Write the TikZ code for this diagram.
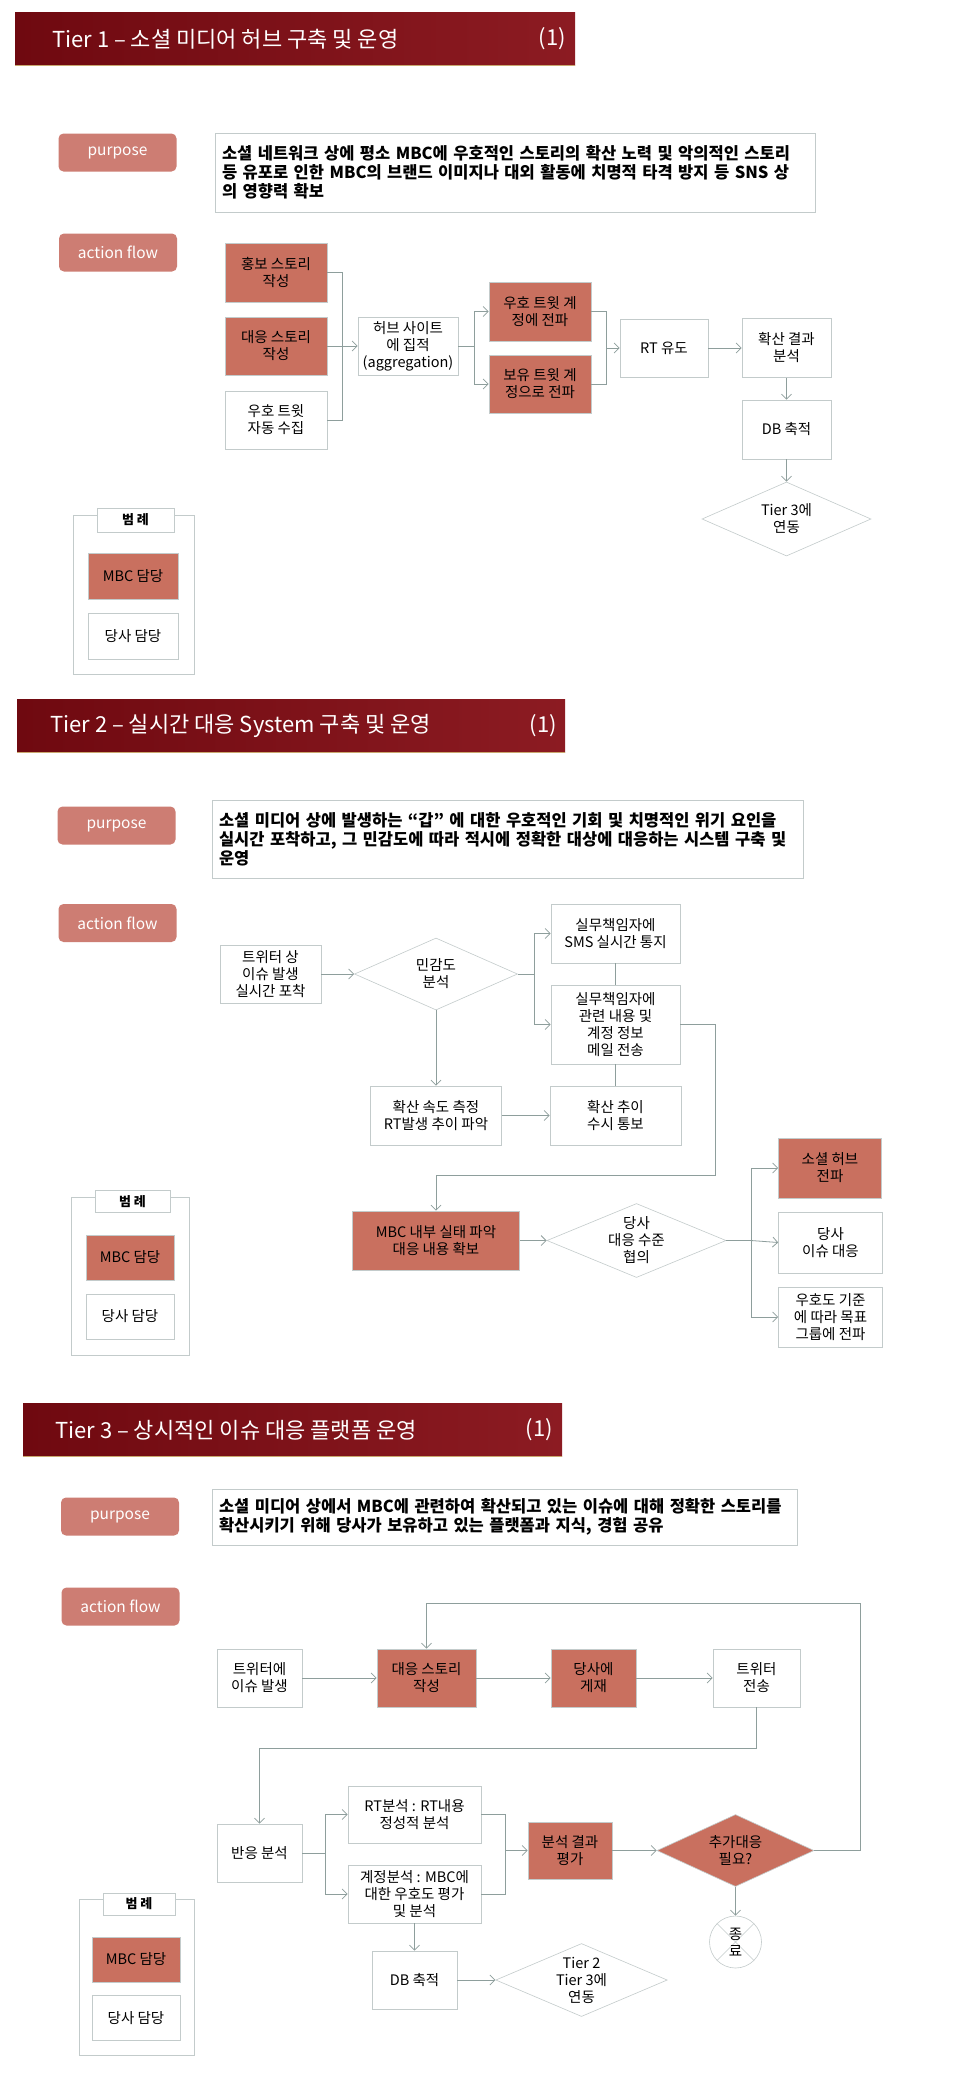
\documentclass[tikz,border=0pt]{standalone}
\usepackage{fontspec}
\setmainfont{Noto Sans CJK KR}
\usetikzlibrary{shapes.geometric,arrows.meta}
\definecolor{barred}{HTML}{6F0910}
\definecolor{barredlight}{HTML}{8C1B22}
\definecolor{baredge}{HTML}{C9A86E}
\definecolor{mbcred}{HTML}{C9705F}
\definecolor{pillred}{HTML}{CD7D73}
\definecolor{boxline}{HTML}{C3CBCB}
\definecolor{flowline}{HTML}{8E9E9C}
\newcommand\flowfont{\fontsize{14.5}{17}\selectfont}
\newcommand\purposefont{\fontsize{16.5}{19}\selectfont\bfseries}
\newcommand\titlefont{\fontsize{22}{26}\selectfont}
\begin{document}
\begin{tikzpicture}[x=1pt,y=-1pt,
    every node/.style={font=\flowfont, inner sep=0pt, align=center},
    mbcbox/.style={draw=boxline, fill=mbcred, line width=0.6pt},
    ourbox/.style={draw=boxline, fill=white, line width=0.6pt},
    decide/.style={diamond, draw=boxline, fill=white, aspect=2.6, line width=0.6pt},
    pill/.style={rounded corners=5pt, fill=pillred, text=white, minimum width=118pt, minimum height=38pt, font=\fontsize{15.5}{18}\selectfont},
    purposebox/.style={draw=boxline, line width=0.8pt, align=left, inner sep=7pt, font=\purposefont},
    titlebar/.style={left color=barred, right color=barredlight, minimum height=53pt},
    titletext/.style={text=white, font=\titlefont},
    legendtab/.style={draw=boxline, fill=white, line width=0.6pt, font=\fontsize{13}{15}\selectfont\bfseries},
    wire/.style={draw=flowline, line width=0.8pt},
    wirearrow/.style={wire, -{Straight Barb[length=5pt,width=10pt]}},
  ]
  \path[use as bounding box, fill=white] (0,0) rectangle (960,2077);

  % ---------------- Tier 1 ----------------
  \node[titlebar, minimum width=560pt] (bar1) at (295,39) {};
  \draw[baredge, line width=1pt] (bar1.south west) -- (bar1.south east);
  \node[titletext, anchor=west] (title1) at (52,39) {Tier 1 – 소셜 미디어 허브 구축 및 운영};
  \node[titletext, anchor=east] (num1) at (566,39) {(1)};

  \node[pill] (purpose1) at (117.5,152.5) {purpose};
  \node[purposebox, text width=586pt, minimum height=79pt] (goal1) at (515,172.5)
    {소셜 네트워크 상에 평소 MBC에 우호적인 스토리의 확산 노력 및 악의적인 스토리\\
     등 유포로 인한 MBC의 브랜드 이미지나 대외 활동에 치명적 타격 방지 등 SNS 상\\
     의 영향력 확보};
  \node[pill] (action1) at (118,252.5) {action flow};

  \node[mbcbox, minimum width=102pt, minimum height=59pt] (promo) at (276,272.5) {홍보 스토리\\작성};
  \node[mbcbox, minimum width=102pt, minimum height=58pt] (counter1) at (276,346) {대응 스토리\\작성};
  \node[ourbox, minimum width=102pt, minimum height=58pt] (collect) at (276,420) {우호 트윗\\자동 수집};
  \node[ourbox, minimum width=100pt, minimum height=58pt] (hub) at (408,346) {허브 사이트\\에 집적\\(aggregation)};
  \node[mbcbox, minimum width=102pt, minimum height=59pt] (favacct) at (540,311.5) {우호 트윗 계\\정에 전파};
  \node[mbcbox, minimum width=102pt, minimum height=58pt] (ownacct) at (540,384) {보유 트윗 계\\정으로 전파};
  \node[ourbox, minimum width=88pt, minimum height=58pt] (rtinduce) at (664,348) {RT 유도};
  \node[ourbox, minimum width=89pt, minimum height=59pt] (result1) at (786.5,348) {확산 결과\\분석};
  \node[ourbox, minimum width=89pt, minimum height=59pt] (db1) at (786.5,429.5) {DB 축적};
  \node[decide, minimum width=169pt, minimum height=74pt] (link1) at (786.5,519) {Tier 3에\\연동};

  \coordinate (join1) at (342,346);
  \coordinate (split1) at (474,346);
  \coordinate (join2) at (606,348);
  \draw[wire] (promo.east) -| (join1);
  \draw[wire] (collect.east) -| (join1);
  \draw[wirearrow] (counter1.east) -- (hub.west);
  \draw[wire] (hub.east) -- (split1);
  \draw[wirearrow] (split1) |- (favacct.west);
  \draw[wirearrow] (split1) |- (ownacct.west);
  \draw[wire] (favacct.east) -| (join2);
  \draw[wire] (ownacct.east) -| (join2);
  \draw[wirearrow] (join2) -- (rtinduce.west);
  \draw[wirearrow] (rtinduce.east) -- (result1.west);
  \draw[wirearrow] (result1.south) -- (db1.north);
  \draw[wirearrow] (db1.south) -- (link1.north);

  % legend
  \node[ourbox, minimum width=121pt, minimum height=159pt] (legend1) at (133.5,594.5) {};
  \node[legendtab, minimum width=77pt, minimum height=24pt] (tab1) at (135.5,520) {범 례};
  \node[mbcbox, minimum width=90pt, minimum height=46pt] (keymbc1) at (133,576) {MBC 담당};
  \node[ourbox, minimum width=90pt, minimum height=46pt] (keyour1) at (133,636) {당사 담당};

  % ---------------- Tier 2 ----------------
  \node[titlebar, minimum width=548pt] (bar2) at (291,725.5) {};
  \draw[baredge, line width=1pt] (bar2.south west) -- (bar2.south east);
  \node[titletext, anchor=west] (title2) at (50,725.5) {Tier 2 – 실시간 대응 System 구축 및 운영};
  \node[titletext, anchor=east] (num2) at (557,725.5) {(1)};

  \node[pill] (purpose2) at (116.5,825.5) {purpose};
  \node[purposebox, text width=577pt, minimum height=78pt] (goal2) at (507.5,839)
    {소셜 미디어 상에 발생하는 “갑” 에 대한 우호적인 기회 및 치명적인 위기 요인을\\
     실시간 포착하고, 그 민감도에 따라 적시에 정확한 대상에 대응하는 시스템 구축 및\\
     운영};
  \node[pill] (action2) at (117.5,923) {action flow};

  \node[ourbox, minimum width=101pt, minimum height=58pt] (capture) at (270.5,974) {트위터 상\\이슈 발생\\실시간 포착};
  \node[decide, minimum width=163pt, minimum height=72pt] (sense) at (436,974) {민감도\\분석};
  \node[ourbox, minimum width=129pt, minimum height=59pt] (sms) at (615.5,933.5) {실무책임자에\\SMS 실시간 통지};
  \node[ourbox, minimum width=129pt, minimum height=79pt] (mail) at (615.5,1024.5) {실무책임자에\\관련 내용 및\\계정 정보\\메일 전송};
  \node[ourbox, minimum width=131pt, minimum height=59pt] (speed) at (436,1115.5) {확산 속도 측정\\RT발생 추이 파악};
  \node[ourbox, minimum width=131pt, minimum height=59pt] (trend) at (615.5,1115.5) {확산 추이\\수시 통보};
  \node[mbcbox, minimum width=167pt, minimum height=59pt] (internal) at (436,1240.5) {MBC 내부 실태 파악\\대응 내용 확보};
  \node[decide, minimum width=165pt, minimum height=74pt] (level) at (636.5,1240.5) {당사\\대응 수준\\협의};
  \node[mbcbox, minimum width=103pt, minimum height=60pt] (hubspread) at (830,1168) {소셜 허브\\전파};
  \node[ourbox, minimum width=104pt, minimum height=61pt] (ourissue) at (830.5,1242.5) {당사\\이슈 대응};
  \node[ourbox, minimum width=104pt, minimum height=60pt] (target) at (830.5,1317) {우호도 기준\\에 따라 목표\\그룹에 전파};

  \coordinate (split2) at (534,974);
  \coordinate (split3) at (751,1240.5);
  \draw[wirearrow] (capture.east) -- (sense.west);
  \draw[wire] (sense.east) -- (split2);
  \draw[wirearrow] (split2) |- (sms.west);
  \draw[wirearrow] (split2) |- (mail.west);
  \draw[wire] (sms.south) -- (mail.north);
  \draw[wirearrow] (sense.south) -- (speed.north);
  \draw[wirearrow] (speed.east) -- (trend.west);
  \draw[wire] (mail.south) -- (trend.north);
  \draw[wirearrow] (mail.east) -- (715,1024.5) -- (715,1175) -| (internal.north);
  \draw[wirearrow] (internal.east) -- (level.west);
  \draw[wire] (level.east) -- (split3);
  \draw[wirearrow] (split3) |- (hubspread.west);
  \draw[wirearrow] (split3) -- (ourissue.west);
  \draw[wirearrow] (split3) |- (target.west);

  % legend
  \node[ourbox, minimum width=118pt, minimum height=158pt] (legend2) at (130,1276) {};
  \node[legendtab, minimum width=75pt, minimum height=22pt] (tab2) at (132.5,1201.5) {범 례};
  \node[mbcbox, minimum width=88pt, minimum height=45pt] (keymbc2) at (130,1257.5) {MBC 담당};
  \node[ourbox, minimum width=88pt, minimum height=45pt] (keyour2) at (130,1316.5) {당사 담당};

  % ---------------- Tier 3 ----------------
  \node[titlebar, minimum width=539pt] (bar3) at (292.5,1430) {};
  \draw[baredge, line width=1pt] (bar3.south west) -- (bar3.south east);
  \node[titletext, anchor=west] (title3) at (55,1430) {Tier 3 – 상시적인 이슈 대응 플랫폼 운영};
  \node[titletext, anchor=east] (num3) at (553,1430) {(1)};

  \node[pill] (purpose3) at (120,1516.5) {purpose};
  \node[purposebox, text width=571pt, minimum height=56pt] (goal3) at (504.5,1517)
    {소셜 미디어 상에서 MBC에 관련하여 확산되고 있는 이슈에 대해 정확한 스토리를\\
     확산시키기 위해 당사가 보유하고 있는 플랫폼과 지식, 경험 공유};
  \node[pill] (action3) at (120.5,1606.5) {action flow};

  \node[ourbox, minimum width=85pt, minimum height=58pt] (twissue) at (259.5,1678) {트위터에\\이슈 발생};
  \node[mbcbox, minimum width=99pt, minimum height=58pt] (story3) at (426.5,1678) {대응 스토리\\작성};
  \node[mbcbox, minimum width=85pt, minimum height=58pt] (post) at (593.5,1678) {당사에\\게재};
  \node[ourbox, minimum width=87pt, minimum height=58pt] (send) at (756.5,1678) {트위터\\전송};
  \node[ourbox, minimum width=85pt, minimum height=58pt] (react) at (259.5,1853) {반응 분석};
  \node[ourbox, minimum width=133pt, minimum height=57pt] (rtan) at (414.5,1814.5) {RT분석 : RT내용\\정성적 분석};
  \node[ourbox, minimum width=133pt, minimum height=58pt] (acct) at (414.5,1894) {계정분석 : MBC에\\대한 우호도 평가\\및 분석};
  \node[mbcbox, minimum width=84pt, minimum height=57pt] (evalres) at (570,1850.5) {분석 결과\\평가};
  \node[decide, fill=mbcred, minimum width=157pt, minimum height=72pt] (more) at (735.5,1850.5) {추가대응\\필요?};
  \node[ourbox, circle, minimum size=52pt] (finish) at (735.5,1942) {};
  \draw[draw=boxline, line width=0.6pt] (finish.45) -- (finish.225) (finish.135) -- (finish.315);
  \node (finishtext) at (735.5,1942) {종\\료};
  \node[ourbox, minimum width=85pt, minimum height=58pt] (db3) at (414.5,1980) {DB 축적};
  \node[decide, minimum width=163pt, minimum height=73pt] (link3) at (581.5,1980) {Tier 2\\Tier 3에\\연동};

  \coordinate (split4) at (325,1853);
  \coordinate (join3) at (505,1850.5);
  \draw[wirearrow] (twissue.east) -- (story3.west);
  \draw[wirearrow] (story3.east) -- (post.west);
  \draw[wirearrow] (post.east) -- (send.west);
  \draw[wirearrow] (send.south) -- (756.5,1748) -| (react.north);
  \draw[wire] (react.east) -- (split4);
  \draw[wirearrow] (split4) |- (rtan.west);
  \draw[wirearrow] (split4) |- (acct.west);
  \draw[wire] (rtan.east) -| (join3);
  \draw[wire] (acct.east) -| (join3);
  \draw[wirearrow] (join3) -- (evalres.west);
  \draw[wirearrow] (evalres.east) -- (more.west);
  \draw[wirearrow] (more.east) -- (860,1850.5) -- (860,1603) -| (story3.north);
  \draw[wirearrow] (more.south) -- (finish.north);
  \draw[wirearrow] (acct.south) -- (db3.north);
  \draw[wirearrow] (db3.east) -- (link3.west);

  % legend
  \node[ourbox, minimum width=115pt, minimum height=156pt] (legend3) at (136.5,1977) {};
  \node[legendtab, minimum width=72pt, minimum height=22pt] (tab3) at (139,1904) {범 례};
  \node[mbcbox, minimum width=88pt, minimum height=45pt] (keymbc3) at (136,1959.5) {MBC 담당};
  \node[ourbox, minimum width=88pt, minimum height=45pt] (keyour3) at (136,2018) {당사 담당};
\end{tikzpicture}
\end{document}
